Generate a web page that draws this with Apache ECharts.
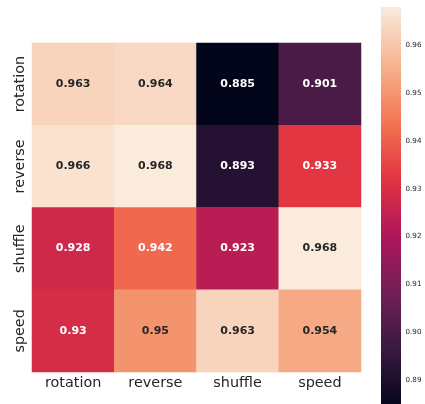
<!DOCTYPE html>
<html>
<head>
<meta charset="utf-8">
<script src="https://cdn.jsdelivr.net/npm/echarts@6/dist/echarts.min.js"></script>
<style>
html,body{margin:0;padding:0;background:#fff;}
#chart{width:425px;height:404px;}
</style>
</head>
<body>
<div id="chart"></div>
<script>
const columns = ['rotation', 'reverse', 'shuffle', 'speed'];
const rows = ['rotation', 'reverse', 'shuffle', 'speed'];
const rowRotation = [0.963, 0.964, 0.885, 0.901];
const rowReverse  = [0.966, 0.968, 0.893, 0.933];
const rowShuffle  = [0.928, 0.942, 0.923, 0.968];
const rowSpeed    = [0.93, 0.95, 0.963, 0.954];
const colorbarTicks = [0.89, 0.90, 0.91, 0.92, 0.93, 0.94, 0.95, 0.96];
const valueMin = 0.885;
const valueMax = 0.968;

const matrix = [rowRotation, rowReverse, rowShuffle, rowSpeed];
const rocket = ['#03051A', '#35193E', '#701F57', '#AD1759', '#E13342', '#F37651', '#F6B48F', '#FAEBDD'];
const FONT = 'DejaVu Sans';
const INK = '#262626';

const data = [];
matrix.forEach((row, yi) => {
  row.forEach((v, xi) => {
    data.push({
      value: [xi, yi, v],
      label: { color: v >= 0.945 ? INK : '#ffffff' }
    });
  });
});

const chart = echarts.init(document.getElementById('chart'), null, { renderer: 'canvas' });
chart.setOption({
  backgroundColor: '#ffffff',
  animation: false,
  textStyle: { fontFamily: FONT },
  grid: [
    { left: 32, top: 43, width: 329, height: 329 },
    { left: 381, top: 7, width: 20, height: 402 }
  ],
  xAxis: [
    {
      type: 'category', gridIndex: 0, data: columns,
      axisLine: { show: false },
      axisTick: { alignWithLabel: true, length: 3.5, lineStyle: { color: INK, width: 0.8 } },
      axisLabel: { fontFamily: FONT, fontSize: 14.4, color: INK, margin: 4 },
      splitLine: { show: false }
    },
    { type: 'value', gridIndex: 1, show: false, min: 0, max: 1 }
  ],
  yAxis: [
    {
      type: 'category', gridIndex: 0, data: rows, inverse: true,
      axisLine: { show: false },
      axisTick: { alignWithLabel: true, length: 3.5, lineStyle: { color: INK, width: 0.8 } },
      axisLabel: { fontFamily: FONT, fontSize: 14.4, color: INK, rotate: 90, margin: 5 },
      splitLine: { show: false }
    },
    {
      type: 'value', gridIndex: 1, position: 'right', min: valueMin, max: valueMax,
      axisLine: { show: false },
      splitLine: { show: false },
      axisTick: { show: true, customValues: colorbarTicks, length: 3.5, lineStyle: { color: INK, width: 0.8 } },
      axisLabel: { customValues: colorbarTicks, fontFamily: FONT, fontSize: 7.2, color: INK, margin: 4.5,
        formatter: v => v.toFixed(2) }
    }
  ],
  visualMap: {
    type: 'continuous', seriesIndex: 0, min: valueMin, max: valueMax,
    left: 381, top: 7, itemWidth: 20, itemHeight: 402, padding: 0,
    calculable: false, realtime: false, hoverLink: false,
    inRange: { color: rocket }
  },
  series: [{
    type: 'heatmap', xAxisIndex: 0, yAxisIndex: 0,
    data: data,
    label: {
      show: true, fontFamily: FONT, fontSize: 11, fontWeight: 'bold',
      formatter: p => String(p.value[2])
    },
    itemStyle: { borderWidth: 0 },
    emphasis: { disabled: true }
  }]
});
</script>
</body>
</html>
